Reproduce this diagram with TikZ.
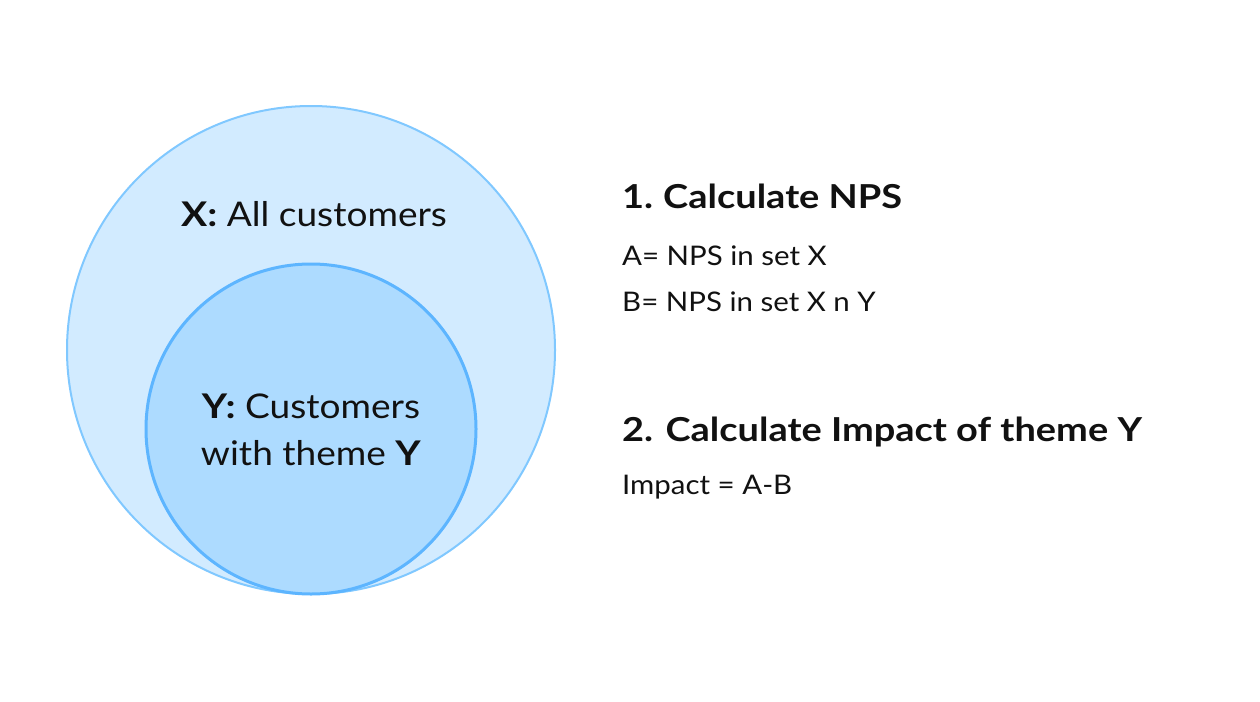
\documentclass[tikz,border=0pt]{standalone}
\usepackage{fontspec}
\setmainfont{Lato}[FakeStretch=1.09, BoldFeatures={FakeStretch=1.15}]
\definecolor{outerfill}{HTML}{D2EBFF}
\definecolor{outerline}{HTML}{80C8FF}
\definecolor{innerfill}{HTML}{ADDBFF}
\definecolor{innerline}{HTML}{5DB5FF}
\definecolor{txt}{HTML}{111111}
\tikzset{
  bigtxt/.style={font=\fontsize{34}{40}\selectfont, text=txt, inner sep=0pt},
  headtxt/.style={font=\fontsize{33}{40}\selectfont\bfseries, text=txt, inner sep=0pt, anchor=base west},
  smalltxt/.style={font=\fontsize{27}{32}\selectfont, text=txt, inner sep=0pt, anchor=base west},
}
\begin{document}
\begin{tikzpicture}[x=1pt,y=-1pt]
\useasboundingbox (0,0) rectangle (1260,701);
\fill[white] (0,0) rectangle (1260,701);
\draw[fill=outerfill, draw=outerline, line width=2pt] (311,350) circle (244);
\draw[fill=innerfill, draw=innerline, line width=3pt] (311,429) circle (165);
\node[bigtxt, anchor=base] (x) at (314,226) {\textbf{X:} All customers};
\node[bigtxt, anchor=base] (y1) at (311,418) {\textbf{Y:} Customers};
\node[bigtxt, anchor=base] (y2) at (311,465) {with theme \textbf{Y}};
\node[headtxt] (h1) at (622,208) {1.\hspace{10pt}Calculate NPS};
\node[smalltxt] (a) at (622,265) {A= NPS in set X};
\node[smalltxt] (b) at (622,311) {B= NPS in set X n Y};
\node[headtxt] (h2) at (622,441) {2. Calculate Impact of theme Y};
\node[smalltxt] (i) at (622,494) {Impact = A-B};
\end{tikzpicture}
\end{document}
